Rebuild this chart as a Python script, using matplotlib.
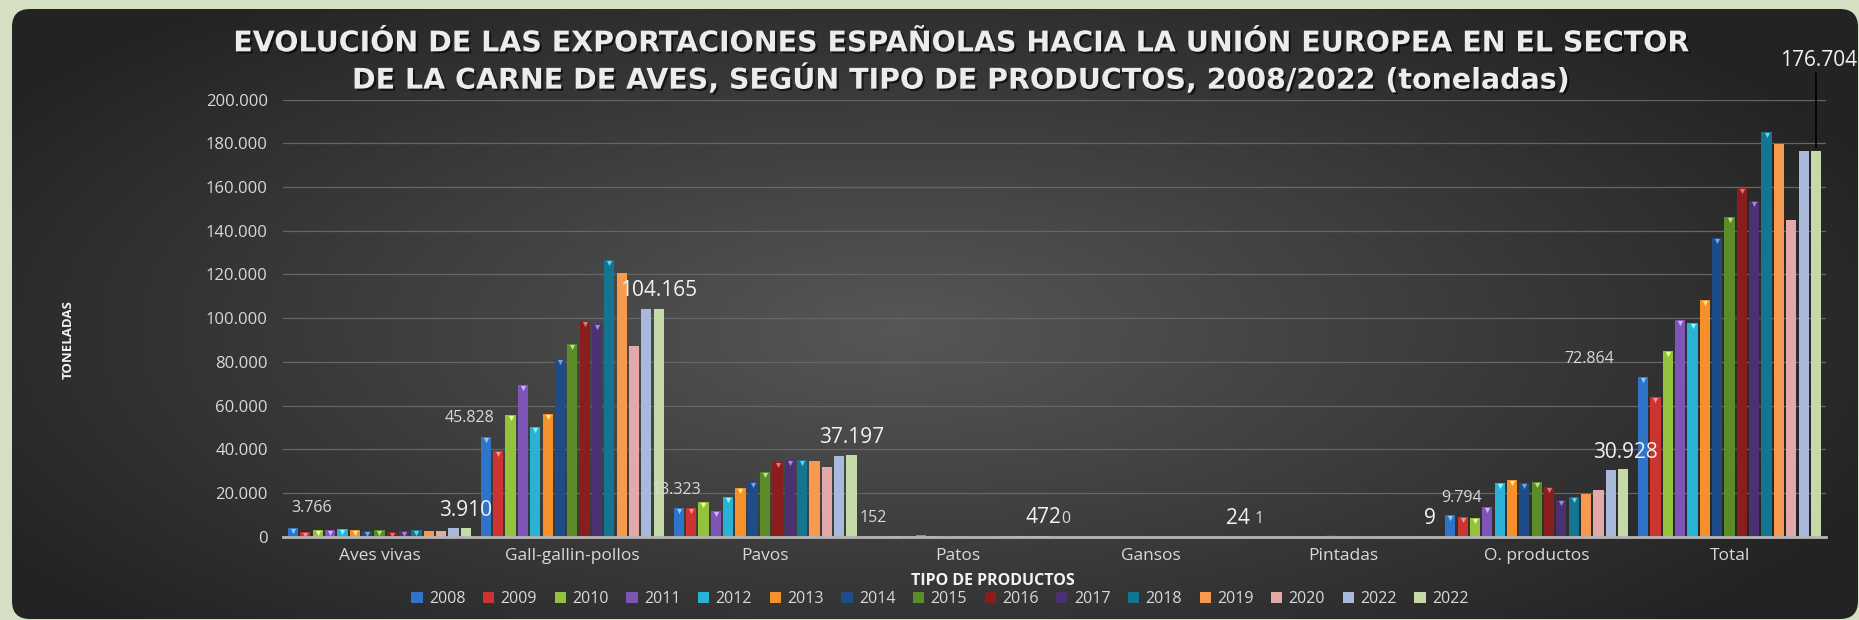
"""Exportaciones españolas de carne de aves hacia la UE, 2008/2022."""

import numpy as np
import matplotlib.pyplot as plt
from matplotlib.patches import FancyBboxPatch
from matplotlib.ticker import FuncFormatter
import matplotlib.patheffects as pe
import matplotlib.transforms as mtrans

# Datos (toneladas)
productos = ['Aves vivas', 'Gall-gallin-pollos', 'Pavos', 'Patos', 'Gansos',
             'Pintadas', 'O. productos', 'Total']
anios = ['2008', '2009', '2010', '2011', '2012', '2013', '2014', '2015',
         '2016', '2017', '2018', '2019', '2020', '2022', '2022']

aves_vivas = [3766, 2300, 3000, 3000, 3700, 3200, 2700, 3000, 2300, 2700, 3000, 2700, 2700, 3850, 3910]
gall_pollos = [45828, 39000, 55800, 69500, 50000, 56100, 81400, 88100, 98500, 97300, 126800, 120800, 87100, 104000, 104165]
pavos = [13323, 13000, 16000, 11800, 18000, 22500, 24900, 29500, 34200, 35100, 35100, 34800, 32100, 37000, 37197]
patos = [152, 200, 250, 300, 800, 300, 250, 300, 350, 300, 400, 450, 500, 470, 472]
gansos = [0, 10, 20, 15, 10, 30, 20, 25, 30, 20, 25, 30, 30, 25, 24]
pintadas = [1, 5, 5, 10, 20, 10, 700, 10, 5, 5, 5, 8, 10, 9, 9]
otros = [9794, 9000, 8400, 13400, 24400, 25800, 24400, 24900, 22600, 16800, 18300, 19600, 21400, 30400, 30928]
total = [72864, 63900, 84800, 99100, 97800, 108200, 136600, 146500, 159700, 153700, 185200, 179500, 144800, 176400, 176704]

colores = ['#2f74c8', '#cc3431', '#94c23c', '#7d55b6', '#2ab2d6', '#f4912c',
           '#1f4b86', '#5c8c27', '#8a1d1d', '#4b3072', '#147591', '#f79a4e',
           '#e3a9a8', '#a9b9dc', '#c6daa9']
con_bisel = 11  # 2008-2018 llevan el remate 3D

series = np.array([aves_vivas, gall_pollos, pavos, patos, gansos, pintadas, otros, total]).T

W, H = 1859, 620
fig = plt.figure(figsize=(W / 100, H / 100), dpi=100, facecolor='#d5dfc4')
plt.rcParams['font.family'] = ['Open Sans', 'DejaVu Sans']

# Fondo: panel oscuro redondeado con degradado
bg = fig.add_axes([0, 0, 1, 1])
bg.set_xlim(0, W)
bg.set_ylim(H, 0)
bg.axis('off')
yy, xx = np.mgrid[0:H, 0:W]
d = np.sqrt(((xx - 900) / 1050.0) ** 2 + ((yy - 330) / 420.0) ** 2)
g = np.clip(0.34 - 0.20 * d, 0.14, 0.34)
img = bg.imshow(np.dstack([g, g, g]), extent=(0, W, H, 0), zorder=0)
panel = FancyBboxPatch((12, 9), W - 13, H - 10, boxstyle='round,pad=0,rounding_size=18',
                       transform=bg.transData, facecolor='none', edgecolor='none')
bg.add_patch(panel)
img.set_clip_path(panel)

ax = fig.add_axes([283 / W, 1 - 536.7 / H, (1826 - 283) / W, (536.7 - 99.6) / H])
ax.patch.set_visible(False)

n = len(anios)
x = np.arange(len(productos))
paso = 0.064
ancho = 0.053

for j in range(n):
    pos = x + (j - (n - 1) / 2) * paso
    ax.bar(pos, series[j], width=ancho, color=colores[j], zorder=3, label=anios[j])
    if j < con_bisel:
        v = series[j]
        m = v > 1500
        r, gg, b = plt.matplotlib.colors.to_rgb(colores[j])
        claro = (min(1, r + 0.35), min(1, gg + 0.35), min(1, b + 0.35))
        off = mtrans.offset_copy(ax.transData, fig=fig, x=0, y=-3, units='dots')
        ax.scatter(pos[m], v[m], marker='v', s=14, color=claro, linewidths=0,
                   zorder=4, transform=off)

ax.set_xlim(-0.5, len(productos) - 0.5)
ax.set_ylim(0, 200000)
ax.set_yticks(np.arange(0, 200001, 20000))
ax.yaxis.set_major_formatter(FuncFormatter(lambda v, p: f'{int(v):,}'.replace(',', '.')))
ax.set_xticks(x)
ax.set_xticklabels(productos)
ax.tick_params(axis='both', length=0, colors='#d9d9d9', labelsize=12)
ax.tick_params(axis='x', pad=8, labelsize=12.5)
ax.tick_params(axis='y', pad=11)
ax.grid(axis='y', color='#666666', linewidth=0.9, zorder=1)
for s in ['top', 'right', 'left']:
    ax.spines[s].set_visible(False)
ax.spines['bottom'].set_color('#b5b5b5')
ax.spines['bottom'].set_linewidth(2)
ax.spines['bottom'].set_zorder(5)

# Etiquetas de datos: primer año (pequeña) y último (grande)
desp_ini = [(19, 20), (-16, 19), (-2, 18), (2, 18), (1, 18), (2, 18), (11, 17), (-54, 18)]
desp_fin = [(0, 18), (0, 19), (0, 18), (-1, 18), (1, 18), (0, 18), (2, 17), (3, 90)]
for i in range(len(productos)):
    x0 = x[i] - (n - 1) / 2 * paso
    x1 = x[i] + (n - 1) / 2 * paso
    v0, v1 = series[0][i], series[-1][i]
    ax.annotate(f'{v0:,}'.replace(',', '.'), (x0, v0), xytext=desp_ini[i],
                textcoords='offset pixels', ha='center', va='center',
                color='#d9d9d9', fontsize=11.5, zorder=6)
    ax.annotate(f'{v1:,}'.replace(',', '.'), (x1, v1), xytext=desp_fin[i],
                textcoords='offset pixels', ha='center', va='center',
                color='#f2f2f2', fontsize=15, zorder=6)
    if i == len(productos) - 1:
        ax.annotate('', (x1, v1), xytext=(0, 80), textcoords='offset pixels',
                    arrowprops=dict(arrowstyle='-', color='black', lw=1.2), zorder=6)

fig.text(0.517, 0.9,
         'EVOLUCIÓN DE LAS EXPORTACIONES ESPAÑOLAS HACIA LA UNIÓN EUROPEA EN EL SECTOR\n'
         'DE LA CARNE DE AVES, SEGÚN TIPO DE PRODUCTOS, 2008/2022 (toneladas)',
         ha='center', va='center', fontsize=20.5, fontweight='bold', color='#ececec',
         family='DejaVu Sans', linespacing=1.25,
         path_effects=[pe.withSimplePatchShadow(offset=(1.5, -1.5), shadow_rgbFace='black', alpha=0.6)])
fig.text(68 / W, 1 - 340 / H, 'TONELADAS', rotation=90, ha='center', va='center',
         fontsize=9.5, fontweight='bold', color='#f2f2f2')
fig.text(993 / W, 1 - 581 / H, 'TIPO DE PRODUCTOS', ha='center', va='center',
         fontsize=11.5, fontweight='bold', color='#f2f2f2')

leg = ax.legend(loc='center', bbox_to_anchor=(940 / W, 1 - 599 / H),
                bbox_transform=fig.transFigure, ncol=n, frameon=False,
                fontsize=11.5, handlelength=0.7, handleheight=0.7, handletextpad=0.4,
                columnspacing=1.1, labelcolor='#d9d9d9')

fig.savefig('out.png', dpi=100, facecolor=fig.get_facecolor())
